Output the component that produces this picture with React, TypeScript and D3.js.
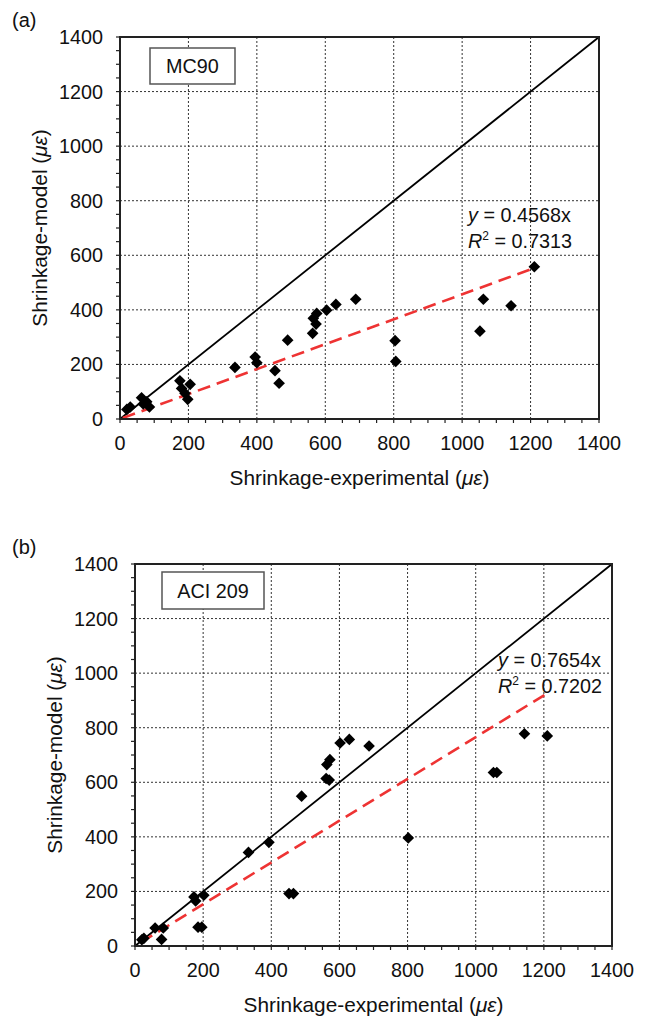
import React from "react";
import * as d3 from "d3";

// ---------- data ----------
const aExperimental = [20, 30, 63, 68, 78, 86, 175, 180, 190, 198, 205, 336, 395, 400, 453, 465, 490, 563, 565, 573, 575, 604, 631, 689, 804, 806, 1052, 1062, 1143, 1211];
const aModel = [35, 44, 78, 55, 63, 44, 140, 112, 94, 72, 127, 189, 227, 206, 177, 131, 289, 314, 369, 348, 387, 399, 420, 439, 287, 211, 322, 439, 415, 558];
const aSlope = 0.4568;
const aR2 = "0.7313";
const aFitRange = [8, 1211];

const bExperimental = [20, 26, 59, 78, 83, 173, 178, 185, 196, 202, 333, 393, 452, 465, 489, 561, 563, 570, 572, 602, 629, 687, 802, 1052, 1062, 1143, 1210];
const bModel = [23, 28, 66, 24, 66, 180, 165, 69, 69, 186, 343, 380, 192, 192, 549, 614, 665, 608, 683, 744, 757, 733, 396, 636, 636, 778, 770];
const bSlope = 0.7654;
const bR2 = "0.7202";
const bFitRange = [18, 1210];

const gridTicks = [200, 400, 600, 800, 1000, 1200];
const labelTicks = [0, 200, 400, 600, 800, 1000, 1200, 1400];
const domainMax = 1400;

const FONT = "'Liberation Sans', Arial, Helvetica, sans-serif";

type PanelProps = {
  tag: string;
  boxText: string;
  xs: number[];
  ys: number[];
  slope: number;
  r2: string;
  fitRange: number[];
  left: number;
  right: number;
  top: number;
  bottom: number;
  box: { x: number; y: number; w: number; h: number };
  eq: { x: number; y: number };
};

function Panel(p: PanelProps) {
  const x = d3.scaleLinear().domain([0, domainMax]).range([p.left, p.right]);
  const y = d3.scaleLinear().domain([0, domainMax]).range([p.bottom, p.top]);
  const minor = d3.range(0, domainMax + 1, 50);
  const diamond = d3.symbol().type(d3.symbolSquare).size(68)()!;
  const fitLine = d3.line<number>().x((v) => x(v)).y((v) => y(v * p.slope))(p.fitRange)!;
  const idLine = d3.line<number>().x((v) => x(v)).y((v) => y(v))([0, domainMax])!;
  const fs = 19.8;
  const ts = 20.8;
  return (
    <g fontFamily={FONT} fill="#111">
      <text x={12} y={p.top - 10} fontSize={20}>{p.tag}</text>
      {/* grid */}
      {gridTicks.map((t) => (
        <g key={"g" + t}>
          <line x1={x(t)} x2={x(t)} y1={p.top} y2={p.bottom} stroke="#333" strokeWidth={1} strokeDasharray="2,2" />
          <line x1={p.left} x2={p.right} y1={y(t)} y2={y(t)} stroke="#333" strokeWidth={1} strokeDasharray="2,2" />
        </g>
      ))}
      {/* ticks */}
      {minor.map((t) => (
        <g key={"t" + t} stroke="#222" strokeWidth={1.2}>
          <line x1={x(t)} x2={x(t)} y1={p.bottom} y2={p.bottom + 4} />
          <line x1={p.left - 4} x2={p.left} y1={y(t)} y2={y(t)} />
        </g>
      ))}
      {/* tick labels */}
      {labelTicks.map((t) => (
        <g key={"l" + t} fontSize={fs}>
          <text x={x(t)} y={p.bottom + 31} textAnchor="middle">{t}</text>
          <text x={p.left - 17} y={y(t) + 7} textAnchor="end">{t}</text>
        </g>
      ))}
      {/* 1:1 line */}
      <path d={idLine} stroke="#000" strokeWidth={1.8} fill="none" />
      {/* fit line */}
      <path d={fitLine} stroke="#ee3333" strokeWidth={2.6} fill="none" strokeDasharray="13,7" />
      {/* points */}
      {p.xs.map((v, i) => (
        <path key={"p" + i} d={diamond} transform={`translate(${x(v)},${y(p.ys[i])}) rotate(45)`} fill="#000" />
      ))}
      {/* frame */}
      <rect x={p.left} y={p.top} width={p.right - p.left} height={p.bottom - p.top} fill="none" stroke="#222" strokeWidth={2} />
      {/* label box */}
      <rect x={p.box.x} y={p.box.y} width={p.box.w} height={p.box.h} fill="#fff" stroke="#555" strokeWidth={1.5} />
      <text x={p.box.x + p.box.w / 2} y={p.box.y + p.box.h / 2 + 7} textAnchor="middle" fontSize={fs}>{p.boxText}</text>
      {/* equation */}
      <text x={p.eq.x} y={p.eq.y} fontSize={fs}>
        <tspan fontStyle="italic">y</tspan> = {p.slope.toFixed(4)}x
      </text>
      <text x={p.eq.x} y={p.eq.y + 26} fontSize={fs}>
        <tspan fontStyle="italic">R</tspan>
        <tspan fontSize={12} dy={-8}>2</tspan>
        <tspan dy={8}> = {p.r2}</tspan>
      </text>
      {/* axis titles */}
      <text x={(p.left + p.right) / 2} y={p.bottom + 66} textAnchor="middle" fontSize={ts}>
        Shrinkage-experimental (<tspan fontStyle="italic">με</tspan>)
      </text>
      <text transform={`translate(${p.left - 73},${(p.top + p.bottom) / 2}) rotate(-90)`} textAnchor="middle" fontSize={ts}>
        Shrinkage-model (<tspan fontStyle="italic">με</tspan>)
      </text>
    </g>
  );
}

export default function App() {
  return (
    <svg width={645} height={1018} style={{ position: "absolute", left: 0, top: 0, background: "#fff" }}>
      <Panel
        tag="(a)"
        boxText="MC90"
        xs={aExperimental}
        ys={aModel}
        slope={aSlope}
        r2={aR2}
        fitRange={aFitRange}
        left={120}
        right={599}
        top={37}
        bottom={419}
        box={{ x: 150, y: 48, w: 85, h: 36 }}
        eq={{ x: 468, y: 222 }}
      />
      <Panel
        tag="(b)"
        boxText="ACI 209"
        xs={bExperimental}
        ys={bModel}
        slope={bSlope}
        r2={bR2}
        fitRange={bFitRange}
        left={135}
        right={612}
        top={564}
        bottom={946}
        box={{ x: 162, y: 572, w: 102, h: 37 }}
        eq={{ x: 498, y: 667 }}
      />
    </svg>
  );
}
